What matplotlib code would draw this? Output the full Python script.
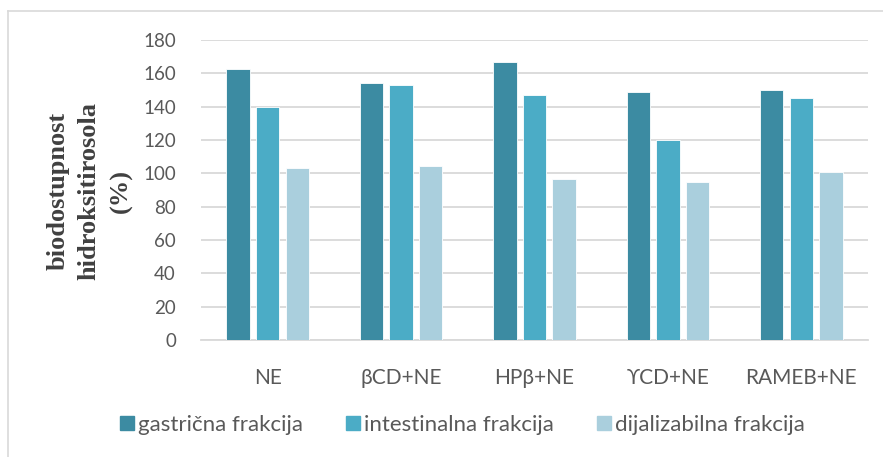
import matplotlib
matplotlib.use("Agg")
import matplotlib.pyplot as plt
import numpy as np
from matplotlib.lines import Line2D

categories = ["NE", "βCD+NE", "HPβ+NE", "ϒCD+NE", "RAMEB+NE"]
gastricna = [162.6, 154.2, 167.0, 148.8, 149.8]
intestinalna = [139.6, 153.2, 147.2, 120.0, 145.0]
dijalizabilna = [103.2, 104.4, 96.4, 95.0, 100.6]
series_names = ["gastrična frakcija", "intestinalna frakcija", "dijalizabilna frakcija"]
ylabel_lines = ["biodostupnost", "hidroksitirosola", "(%)"]
colors = ["#3C8BA2", "#4BACC6", "#AACFDD"]
yticks = [0, 20, 40, 60, 80, 100, 120, 140, 160, 180]

fig = plt.figure(figsize=(8.83, 4.57), dpi=100)
ax = fig.add_axes([201/883, 1-340/457, (868-201)/883, 300/457])

font = "Lato"
x = np.arange(len(categories))
w = 0.175
step = 0.222
for i, (vals, name, c) in enumerate(zip([gastricna, intestinalna, dijalizabilna], series_names, colors)):
    ax.bar(x + (i-1)*step, vals, width=w, color=c, label=name, edgecolor="white", linewidth=0.6, zorder=3)

ax.set_xlim(-0.5, len(categories)-0.5)
ax.set_ylim(0, 180)
ax.set_yticks(yticks)
ax.set_yticklabels([str(v) for v in yticks], fontsize=13.5, family=font, color="#595959")
ax.set_xticks(x)
ax.set_xticklabels(categories, fontsize=15, family=[font, "DejaVu Sans"], color="#595959")
ax.tick_params(axis="both", length=0)
ax.tick_params(axis="x", pad=20)
ax.tick_params(axis="y", pad=18)
ax.grid(axis="y", color="#D9D9D9", linewidth=1.3, zorder=0)
for s in ["top", "right", "left"]:
    ax.spines[s].set_visible(False)
ax.spines["bottom"].set_color("#D9D9D9")
ax.spines["bottom"].set_linewidth(1.3)

for line, xp in zip(ylabel_lines, [58, 89, 121]):
    fig.text(xp/883, 1-191/457, line, rotation=90, ha="center", va="center",
             fontsize=19, fontweight="bold", family="Liberation Serif", color="#404040",
             transform=fig.transFigure)

handles = [Line2D([], [], marker="s", linestyle="none", markersize=10, color=c) for c in colors]
leg = fig.legend(handles, series_names, loc="center", bbox_to_anchor=(462/883, 1-425/457),
                 ncol=3, frameon=False, prop={"family": font, "size": 16},
                 handletextpad=0.15, columnspacing=1.9, handlelength=0.7)
for t in leg.get_texts():
    t.set_color("#595959")

fig.add_artist(Line2D([8/883, 1], [1-11/457, 1-11/457], transform=fig.transFigure, color="#D9D9D9", linewidth=1.2))
fig.add_artist(Line2D([8/883, 8/883], [0, 1-11/457], transform=fig.transFigure, color="#D9D9D9", linewidth=1.2))

fig.savefig("out.png", dpi=100)
